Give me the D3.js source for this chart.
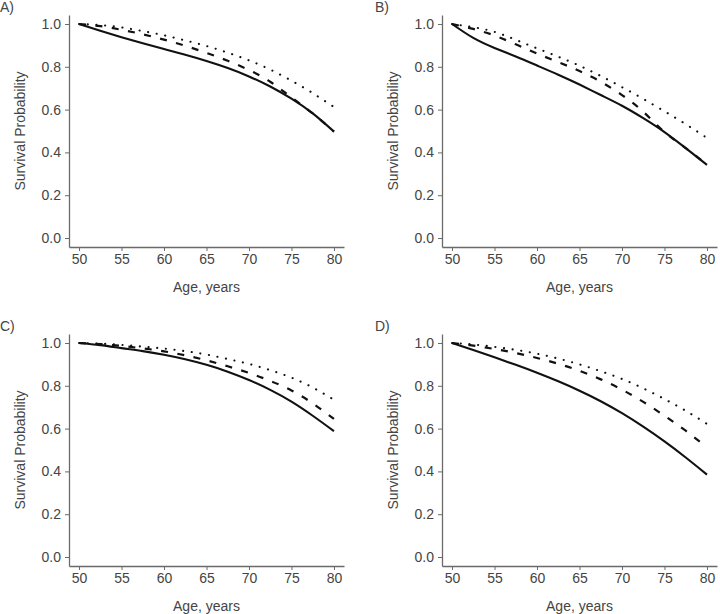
<!DOCTYPE html>
<html>
<head>
<meta charset="utf-8">
<script src="https://cdn.jsdelivr.net/npm/d3@7"></script>
<style>
  html, body { margin: 0; padding: 0; background: #fff; }
  svg { display: block; font-family: "Liberation Sans", Arial, Helvetica, sans-serif; }
</style>
</head>
<body>
<svg id="chart" width="720" height="614"></svg>
<script>
// ---- data ----
const ages = [50, 52.5, 55, 57.5, 60, 62.5, 65, 67.5, 70, 72.5, 75, 77.5, 80];
const xTicks = [50, 55, 60, 65, 70, 75, 80];
const yTicks = [0, 0.2, 0.4, 0.6, 0.8, 1.0];
const panelLabels = ["A)", "B)", "C)", "D)"];
const xTitle = "Age, years";
const yTitle = "Survival Probability";

const solidA  = [1.0, 0.968, 0.938, 0.91, 0.883, 0.856, 0.827, 0.794, 0.755, 0.708, 0.651, 0.582, 0.497];
const dashedA = [1.0, 0.99, 0.973, 0.952, 0.927, 0.898, 0.865, 0.828, 0.785, 0.73, 0.657, 0.582, 0.497];
const dottedA = [1.0, 0.995, 0.984, 0.967, 0.947, 0.923, 0.897, 0.866, 0.83, 0.787, 0.735, 0.677, 0.612];

const solidB  = [1.0, 0.935, 0.888, 0.848, 0.806, 0.763, 0.717, 0.668, 0.618, 0.56, 0.495, 0.42, 0.342];
const dashedB = [1.0, 0.977, 0.946, 0.905, 0.862, 0.822, 0.78, 0.73, 0.668, 0.59, 0.495, 0.42, 0.342];
const dottedB = [1.0, 0.985, 0.963, 0.926, 0.886, 0.847, 0.805, 0.757, 0.705, 0.65, 0.592, 0.532, 0.468];

const solidC  = [1.0, 0.99, 0.976, 0.962, 0.945, 0.924, 0.898, 0.866, 0.827, 0.781, 0.726, 0.66, 0.588];
const dashedC = [1.0, 0.995, 0.986, 0.975, 0.961, 0.942, 0.919, 0.891, 0.86, 0.823, 0.778, 0.718, 0.645];
const dottedC = [1.0, 0.997, 0.991, 0.983, 0.974, 0.962, 0.946, 0.925, 0.902, 0.873, 0.838, 0.792, 0.735];

const solidD  = [1.0, 0.967, 0.933, 0.898, 0.861, 0.821, 0.777, 0.728, 0.672, 0.609, 0.54, 0.465, 0.385];
const dashedD = [1.0, 0.988, 0.972, 0.953, 0.93, 0.903, 0.87, 0.83, 0.782, 0.725, 0.66, 0.59, 0.512];
const dottedD = [1.0, 0.993, 0.982, 0.968, 0.95, 0.927, 0.9, 0.868, 0.832, 0.788, 0.738, 0.683, 0.622];

const panels = [
  { label: panelLabels[0], col: 0, row: 0, series: [solidA, dashedA, dottedA] },
  { label: panelLabels[1], col: 1, row: 0, series: [solidB, dashedB, dottedB] },
  { label: panelLabels[2], col: 0, row: 1, series: [solidC, dashedC, dottedC] },
  { label: panelLabels[3], col: 1, row: 1, series: [solidD, dashedD, dottedD] }
];
const styles = [
  { dash: null, cap: "butt", w: 2.1 },
  { dash: "7,9.5", cap: "butt", w: 2.2 },
  { dash: "0.1,8.6", cap: "round", w: 2.1 }
];

// ---- layout ----
const svg = d3.select("#chart");
const colOff = 373, rowOff = 319;
const axisColor = "#6a6a6a", textColor = "#444";
const fs = "14px";

panels.forEach(p => {
  const ox = p.col * colOff, oy = p.row * rowOff;
  const g = svg.append("g").attr("transform", `translate(${ox},${oy})`);

  const x = d3.scaleLinear().domain([48.82, 81.18]).range([69, 344]);
  const y = d3.scaleLinear().domain([-0.042, 1.042]).range([247, 15]);

  const xAxis = g.append("g").attr("transform", "translate(0,247)")
    .call(d3.axisBottom(x).tickValues(xTicks).tickSize(4).tickSizeOuter(0).tickPadding(3).tickFormat(d3.format("d")));
  const yAxis = g.append("g").attr("transform", "translate(69,0)")
    .call(d3.axisLeft(y).tickValues(yTicks).tickSize(4).tickSizeOuter(0).tickPadding(4).tickFormat(d3.format(".1f")));

  [xAxis, yAxis].forEach(a => {
    a.select(".domain").attr("stroke", axisColor).attr("stroke-width", 1.3);
    a.selectAll(".tick line").attr("stroke", axisColor).attr("stroke-width", 1);
    a.selectAll(".tick text").attr("fill", textColor).style("font-size", fs);
  });

  g.append("text").attr("x", 206.5).attr("y", 292).attr("text-anchor", "middle")
    .attr("fill", textColor).style("font-size", fs).text(xTitle);
  g.append("text").attr("transform", "translate(25,131) rotate(-90)").attr("text-anchor", "middle")
    .attr("fill", textColor).style("font-size", fs).text(yTitle);
  g.append("text").attr("x", p.col ? 2 : 0).attr("y", 12)
    .attr("fill", textColor).style("font-size", fs).text(p.label);

  const line = d3.line().x((d, i) => x(ages[i])).y(d => y(d)).curve(d3.curveNatural);
  p.series.forEach((s, i) => {
    g.append("path").datum(s).attr("d", line)
      .attr("fill", "none").attr("stroke", "#111").attr("stroke-width", styles[i].w)
      .attr("stroke-dasharray", styles[i].dash)
      .attr("stroke-linecap", styles[i].cap);
  });
});
</script>
</body>
</html>
